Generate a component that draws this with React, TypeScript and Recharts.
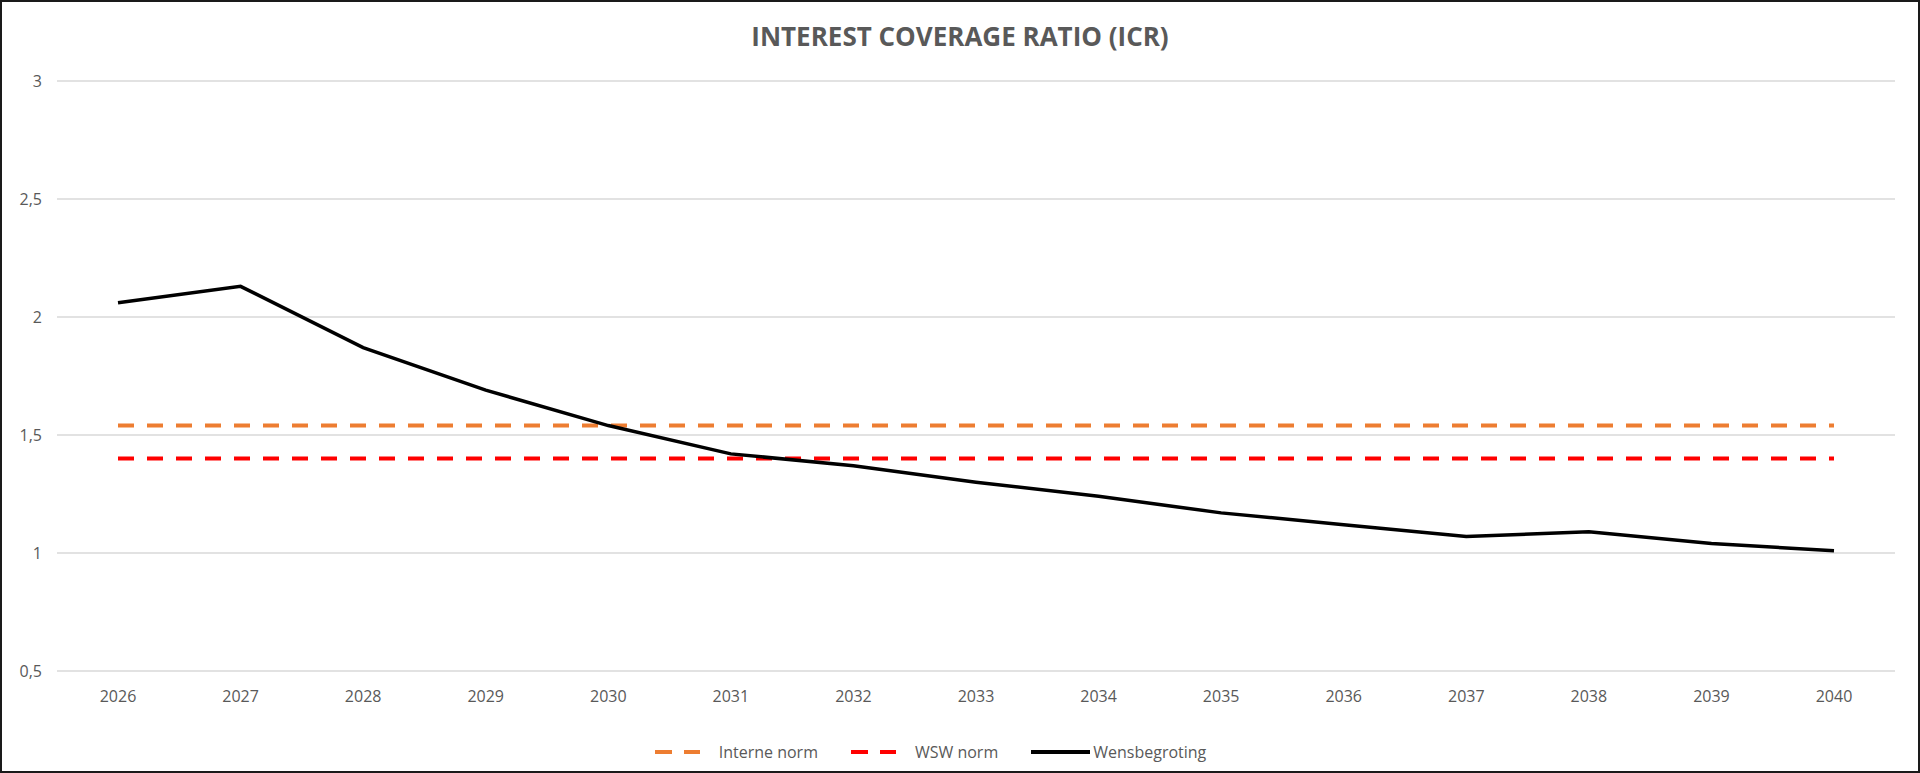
import React from 'react';
import { LineChart, Line, XAxis, YAxis, CartesianGrid, Legend } from 'recharts';

const years = [
  '2026', '2027', '2028', '2029', '2030', '2031', '2032', '2033',
  '2034', '2035', '2036', '2037', '2038', '2039', '2040',
];
const interneNorm = [1.54, 1.54, 1.54, 1.54, 1.54, 1.54, 1.54, 1.54, 1.54, 1.54, 1.54, 1.54, 1.54, 1.54, 1.54];
const wswNorm = [1.4, 1.4, 1.4, 1.4, 1.4, 1.4, 1.4, 1.4, 1.4, 1.4, 1.4, 1.4, 1.4, 1.4, 1.4];
const wensbegroting = [2.06, 2.13, 1.87, 1.69, 1.54, 1.42, 1.37, 1.3, 1.24, 1.17, 1.12, 1.07, 1.09, 1.04, 1.01];
const yTicks = [0.5, 1, 1.5, 2, 2.5, 3];

const data = years.map((year, i) => ({
  year,
  interne: interneNorm[i],
  wsw: wswNorm[i],
  wens: wensbegroting[i],
}));

const FONT = '"Open Sans", sans-serif';
const GREY = '#595959';

const LegendContent = (props: any) => {
  const items = props.payload || [];
  return (
    <div
      style={{
        height: 40,
        display: 'flex',
        justifyContent: 'center',
        alignItems: 'center',
        fontFamily: FONT,
        fontSize: 16,
        color: GREY,
        paddingRight: 34,
      }}
    >
      {items.map((entry: any, i: number) => {
        const dashed = !!entry.payload?.strokeDasharray;
        const w = dashed ? 45 : 59;
        return (
          <div
            key={entry.value}
            style={{ display: 'flex', alignItems: 'center', marginRight: i < items.length - 1 ? 33 : 0 }}
          >
            <svg width={w} height={10} style={{ marginRight: dashed ? 19 : 3 }}>
              <line
                x1={0}
                y1={5}
                x2={w}
                y2={5}
                stroke={entry.color}
                strokeWidth={4}
                strokeDasharray={dashed ? '17 12' : undefined}
              />
            </svg>
            <span>{entry.value}</span>
          </div>
        );
      })}
    </div>
  );
};

const App = () => {
  return (
    <div style={{ position: 'absolute', top: 0, left: 0, width: 1920, height: 773, background: '#fff' }}>
      <div
        style={{
          position: 'absolute',
          top: 21,
          left: 0,
          width: 1920,
          textAlign: 'center',
          fontFamily: FONT,
          fontWeight: 700,
          fontSize: 26,
          lineHeight: '30px',
          color: GREY,
        }}
      >
        INTEREST COVERAGE RATIO (ICR)
      </div>
      <LineChart
        width={1920}
        height={773}
        data={data}
        margin={{ top: 81, right: 25, left: 0, bottom: 1 }}
      >
        <CartesianGrid vertical={false} stroke="#d9d9d9" strokeWidth={1.5} />
        <XAxis
          dataKey="year"
          axisLine={false}
          tickLine={false}
          height={61}
          padding={{ left: 61, right: 61 }}
          tickSize={6}
          tickMargin={14}
          tick={{ fill: GREY, fontSize: 16, fontFamily: FONT }}
        />
        <YAxis
          domain={[0.5, 3]}
          ticks={yTicks}
          width={57}
          axisLine={false}
          tickLine={false}
          tickSize={6}
          tickMargin={9}
          tickFormatter={(v: number) => String(v).replace('.', ',')}
          tick={{ fill: GREY, fontSize: 16, fontFamily: FONT }}
        />
        <Legend verticalAlign="bottom" content={<LegendContent />} />
        <Line
          dataKey="interne"
          name="Interne norm"
          stroke="#ED7D31"
          strokeWidth={4}
          strokeDasharray="16 13"
          dot={false}
          isAnimationActive={false}
        />
        <Line
          dataKey="wsw"
          name="WSW norm"
          stroke="#FF0000"
          strokeWidth={4}
          strokeDasharray="16 13"
          dot={false}
          isAnimationActive={false}
        />
        <Line
          dataKey="wens"
          name="Wensbegroting"
          stroke="#000000"
          strokeWidth={3.5}
          dot={false}
          isAnimationActive={false}
        />
      </LineChart>
      <div
        style={{
          position: 'absolute',
          inset: 0,
          border: '2px solid #1a1a1a',
          pointerEvents: 'none',
        }}
      />
    </div>
  );
};

export default App;
